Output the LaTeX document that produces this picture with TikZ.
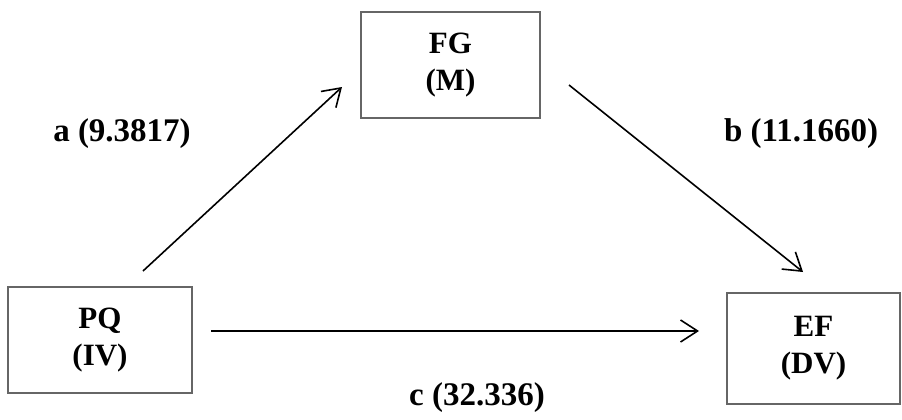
\documentclass[tikz,border=0pt]{standalone}
\usepackage{fontspec}
\setmainfont{Liberation Serif}
\usetikzlibrary{arrows.meta, positioning, calc}

\begin{document}
\begin{tikzpicture}[x=1pt, y=-1pt,
        var/.style={draw=black!60, line width=2pt, align=center, inner sep=0pt,
          font=\fontsize{31}{37}\selectfont\bfseries},
        lab/.style={font=\fontsize{33}{38}\selectfont\bfseries, inner sep=0pt},
        path/.style={line width=1.6pt, -{Straight Barb[length=17pt, width=22pt]}},
      ]
      \useasboundingbox (0, 0) rectangle (902, 420);
      \node[var, minimum width=184pt, minimum height=106pt] (pq) at (100, 340) {PQ\\(IV)};
      \node[var, minimum width=179pt, minimum height=106pt] (fg) at (450.5, 65) {FG\\(M)};
      \node[var, minimum width=173pt, minimum height=111pt] (ef) at (813.5, 348.5) {EF\\(DV)};
      \draw[path] ([shift={(43, -15)}]pq.north) -- ([shift={(-18, 22)}]fg.west);
      \draw[path] ([shift={(28, 20)}]fg.east) -- ([shift={(-10.5, -20)}]ef.north);
      \draw[path] ([shift={(18, -9)}]pq.east) -- ([shift={(-27, -17.5)}]ef.west);
      \node[lab] (a) at (122, 134) {a (9.3817)};
      \node[lab] (b) at (801, 134) {b (11.1660)};
      \node[lab] (c) at (477, 398) {c (32.336)};
      \end{tikzpicture}
\end{document}
